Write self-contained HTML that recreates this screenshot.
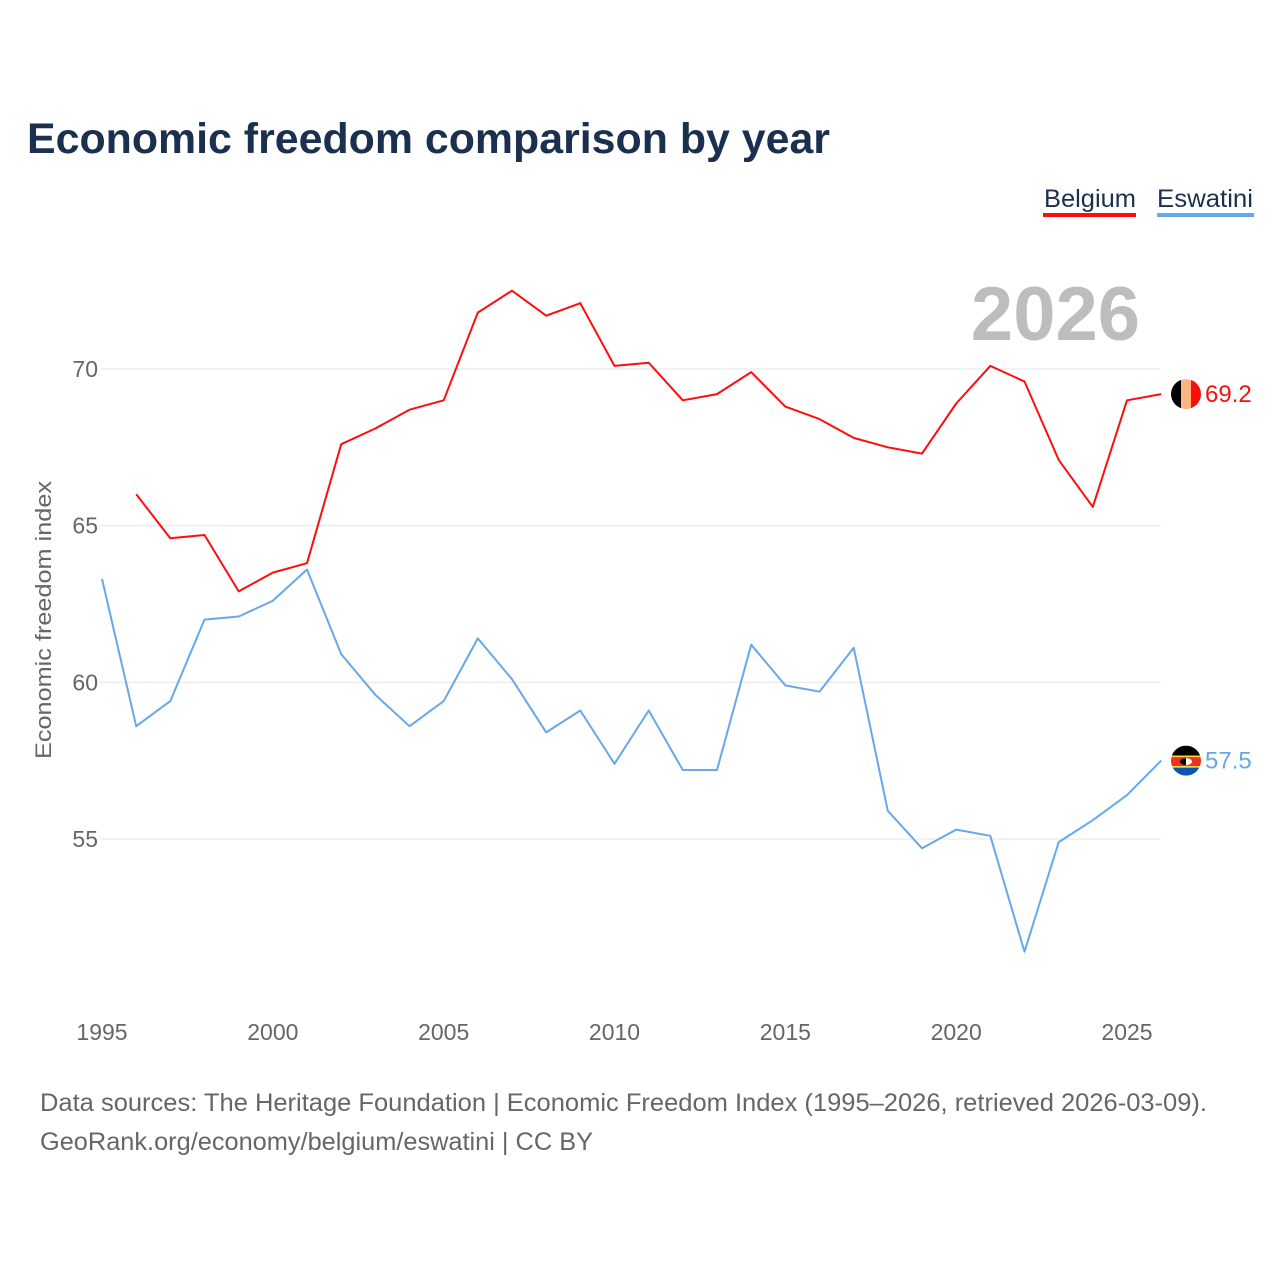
<!DOCTYPE html>
<html><head><meta charset="utf-8"><style>
body{margin:0;background:#fff;}
svg{display:block;font-family:"Liberation Sans",sans-serif;}
</style></head><body>
<svg id="chart" width="1280" height="1280" viewBox="0 0 1280 1280">
<text x="27" y="153" font-size="43" font-weight="bold" fill="#1b2f4e" textLength="803" lengthAdjust="spacingAndGlyphs">Economic freedom comparison by year</text>
<g><text x="1044" y="207" font-size="25" fill="#1b2f4e" textLength="92" lengthAdjust="spacingAndGlyphs">Belgium</text><rect x="1043" y="213" width="93" height="4" fill="#ff0d0d"/></g>
<g><text x="1157" y="207" font-size="25" fill="#1b2f4e" textLength="96" lengthAdjust="spacingAndGlyphs">Eswatini</text><rect x="1157" y="213" width="97" height="4" fill="#66a8ea"/></g>
<text x="1140" y="340" text-anchor="end" font-size="76" font-weight="bold" fill="#bdbdbd">2026</text>
<g id="grid"></g><g id="axes"></g><g id="series"></g>
<text transform="translate(51,620) rotate(-90)" text-anchor="middle" font-size="22" fill="#666" textLength="278" lengthAdjust="spacingAndGlyphs">Economic freedom index</text>
<text x="40" y="1111" font-size="25" fill="#666" textLength="1167" lengthAdjust="spacingAndGlyphs">Data sources: The Heritage Foundation | Economic Freedom Index (1995–2026, retrieved 2026-03-09).</text>
<text x="40" y="1150" font-size="25" fill="#666" textLength="553" lengthAdjust="spacingAndGlyphs">GeoRank.org/economy/belgium/eswatini | CC BY</text>
</svg>
<script>
const years=[1995,1996,1997,1998,1999,2000,2001,2002,2003,2004,2005,2006,2007,2008,2009,2010,2011,2012,2013,2014,2015,2016,2017,2018,2019,2020,2021,2022,2023,2024,2025,2026];
const belgium=[null,66.0,64.6,64.7,62.9,63.5,63.8,67.6,68.1,68.7,69.0,71.8,72.5,71.7,72.1,70.1,70.2,69.0,69.2,69.9,68.8,68.4,67.8,67.5,67.3,68.9,70.1,69.6,67.1,65.6,69.0,69.2];
const eswatini=[63.3,58.6,59.4,62.0,62.1,62.6,63.6,60.9,59.6,58.6,59.4,61.4,60.1,58.4,59.1,57.4,59.1,57.2,57.2,61.2,59.9,59.7,61.1,55.9,54.7,55.3,55.1,51.4,54.9,55.6,56.4,57.5];
const yTicks=[55,60,65,70];
const xTicks=[1995,2000,2005,2010,2015,2020,2025];
const NS="http://www.w3.org/2000/svg";
const X=y=>102+(y-1995)*(1025/30);
const Y=v=>369+(70-v)*31.33;
function mk(t,a,p){const e=document.createElementNS(NS,t);for(const k in a)e.setAttribute(k,a[k]);p.appendChild(e);return e;}
const grid=document.getElementById('grid'),axes=document.getElementById('axes'),ser=document.getElementById('series');
yTicks.forEach(v=>{
 const l=mk('line',{x1:100,x2:1161,y1:Y(v),y2:Y(v),stroke:'#e6e6e6','stroke-width':1},grid);
 
 
 const t=mk('text',{x:98,y:Y(v)+8,'text-anchor':'end','font-size':23,fill:'#666'},axes);
 t.textContent=v;
 
 
});
xTicks.forEach(v=>{
 const t=mk('text',{x:X(v),y:1040,'text-anchor':'middle','font-size':23,fill:'#666'},axes);
 t.textContent=v;
 
 
});
function line(data,color,name){
 let d='';data.forEach((v,i)=>{if(v==null)return;d+=(d?'L':'M')+X(years[i]).toFixed(1)+','+Y(v).toFixed(1);});
 const p=mk('path',{d:d,fill:'none',stroke:color,'stroke-width':2,'stroke-linejoin':'round'},ser);
 
 
 const last=data[data.length-1];
 const t=mk('text',{x:1205,y:Y(last)+8,'font-size':24,fill:color},ser);
 t.textContent=last.toFixed(1);
 
 
 return Y(last);
}
const yb=line(belgium,'#ff0d0d','belgium');
const ye=line(eswatini,'#66a8ea','eswatini');
const defs=mk('defs',{},document.getElementById('chart'));
const cb=mk('clipPath',{id:'cb'},defs);mk('circle',{cx:1186,cy:yb,r:15},cb);
const ce=mk('clipPath',{id:'ce'},defs);mk('circle',{cx:1186,cy:ye,r:15},ce);
const fb=mk('g',{'clip-path':'url(#cb)'},ser);


mk('rect',{x:1171,y:yb-15,width:10,height:30,fill:'#000'},fb);
mk('rect',{x:1181,y:yb-15,width:10,height:30,fill:'#ffb482'},fb);
mk('rect',{x:1191,y:yb-15,width:10,height:30,fill:'#ff0d0d'},fb);
const fe=mk('g',{'clip-path':'url(#ce)'},ser);


mk('rect',{x:1171,y:ye-15,width:30,height:10,fill:'#000'},fe);
mk('rect',{x:1171,y:ye-5,width:30,height:1.5,fill:'#ffd83a'},fe);
mk('rect',{x:1171,y:ye-3.5,width:30,height:9,fill:'#f03020'},fe);
mk('rect',{x:1171,y:ye+5.5,width:30,height:1.5,fill:'#ffd83a'},fe);
mk('rect',{x:1171,y:ye+7,width:30,height:8,fill:'#0a55b0'},fe);
mk('ellipse',{cx:1186,cy:ye+1,rx:6,ry:3.5,fill:'#fff'},fe);
mk('path',{d:`M1180,${ye+1} A6,3.5 0 0 1 1186,${ye-2.5} L1186,${ye+4.5} A6,3.5 0 0 1 1180,${ye+1}Z`,fill:'#000'},fe);
</script>
</body></html>
